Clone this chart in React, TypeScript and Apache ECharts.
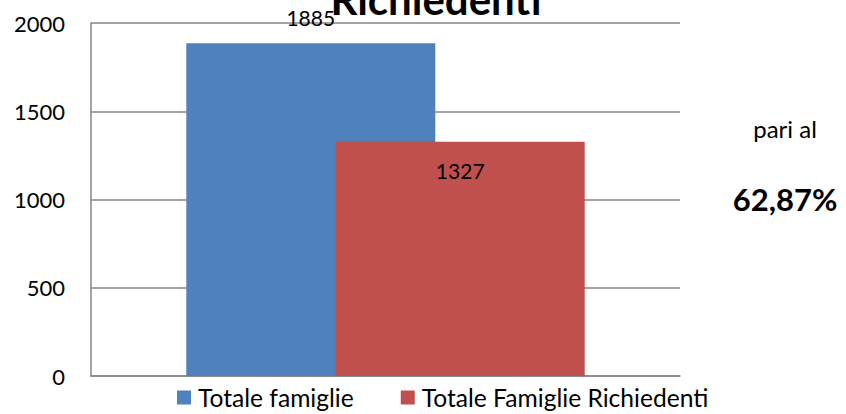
import React, { useEffect, useRef } from "react";
import * as echarts from "echarts";

const categories = ["Famiglie"];
const seriesNames = ["Totale famiglie", "Totale Famiglie Richiedenti"];
const totaleFamiglie = [1885];
const totaleRichiedenti = [1327];
const yTicks = { min: 0, max: 2000, interval: 500 };
const titleText = "Richiedenti";
const sideLabel = "pari al";
const sideValue = "62,87%";

const FONT = "Lato, 'Open Sans', sans-serif";

export default function App() {
  const ref = useRef<HTMLDivElement>(null);
  useEffect(() => {
    if (!ref.current) return;
    const chart = echarts.init(ref.current, undefined, { renderer: "svg" });
    chart.setOption({
      animation: false,
      backgroundColor: "#ffffff",
      textStyle: { fontFamily: FONT, color: "#000" },
      grid: { left: 91, right: 166, top: 23, bottom: 38, containLabel: false },
      legend: {
        left: 177,
        top: 385,
        padding: 0,
        itemWidth: 14,
        itemHeight: 14,
        itemGap: 47,
        icon: "rect",
        textStyle: { fontFamily: FONT, fontSize: 24.6, color: "#000", padding: [0, 0, 0, 2] },
        data: seriesNames,
      },
      xAxis: {
        type: "category",
        data: categories,
        axisLabel: { show: false },
        axisTick: { show: false },
        axisLine: { lineStyle: { color: "#868686", width: 1.5 } },
      },
      yAxis: {
        type: "value",
        min: yTicks.min,
        max: yTicks.max,
        interval: yTicks.interval,
        axisLine: { show: true, lineStyle: { color: "#868686", width: 1.5 } },
        axisTick: { show: false },
        axisLabel: {
          fontFamily: FONT,
          fontSize: 22,
          color: "#000",
          margin: 26,
          formatter: (v: number) => String(v),
        },
        splitLine: { lineStyle: { color: "#868686", width: 1.5 } },
      },
      series: [
        {
          name: seriesNames[0],
          type: "bar",
          data: totaleFamiglie,
          barWidth: 249,
          barGap: "-40%",
          itemStyle: { color: "#4F81BD" },
          label: {
            show: true,
            position: "top",
            distance: 15,
            fontFamily: FONT,
            fontSize: 21,
            color: "#000",
          },
        },
        {
          name: seriesNames[1],
          type: "bar",
          data: totaleRichiedenti,
          barWidth: 249,
          itemStyle: { color: "#C0504D" },
          label: {
            show: true,
            position: "insideTop",
            distance: 18,
            fontFamily: FONT,
            fontSize: 21,
            color: "#000",
          },
        },
      ],
      graphic: [
        {
          type: "text",
          x: 436,
          y: -1,
          z: 100,
          style: {
            text: titleText,
            font: `bold 42px ${FONT}`,
            fill: "#000",
            textAlign: "center",
            textVerticalAlign: "middle",
          },
        },
        {
          type: "text",
          x: 785,
          y: 128,
          style: {
            text: sideLabel,
            font: `24px ${FONT}`,
            fill: "#000",
            textAlign: "center",
            textVerticalAlign: "middle",
          },
        },
        {
          type: "text",
          x: 785,
          y: 199,
          style: {
            text: sideValue,
            font: `bold 31px ${FONT}`,
            fill: "#000",
            textAlign: "center",
            textVerticalAlign: "middle",
          },
        },
      ],
    });
    return () => chart.dispose();
  }, []);
  return (
    <div
      ref={ref}
      style={{ position: "fixed", left: 0, top: 0, width: 846, height: 414 }}
    />
  );
}
